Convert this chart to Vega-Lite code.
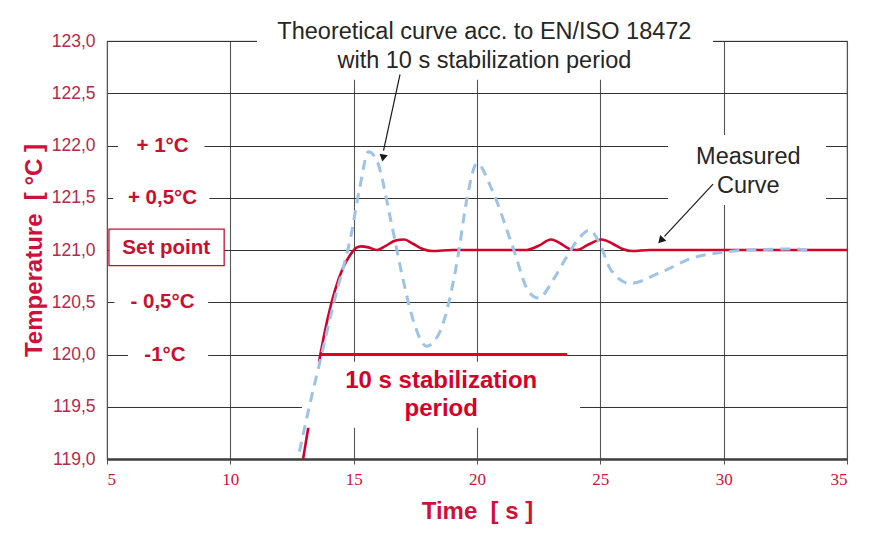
{
  "$schema": "https://vega.github.io/schema/vega-lite/v6.json",
  "width": 740,
  "height": 418,
  "autosize": "none",
  "padding": {"left": 107, "top": 41, "right": 34, "bottom": 84},
  "background": "white",
  "config": {
    "view": {"stroke": "#7f7f7f", "strokeWidth": 1.2},
    "font": "Liberation Sans"
  },
  "datasets": {
    "measured": [
      {"t": 12.95, "temp": 119.0}, {"t": 13.3, "temp": 119.5}, {"t": 13.65, "temp": 120.0},
      {"t": 13.95, "temp": 120.35}, {"t": 14.25, "temp": 120.62}, {"t": 14.55, "temp": 120.82},
      {"t": 14.85, "temp": 120.95}, {"t": 15.1, "temp": 121.02}, {"t": 15.3, "temp": 121.035},
      {"t": 15.6, "temp": 121.025}, {"t": 15.95, "temp": 121.0}, {"t": 16.3, "temp": 121.04},
      {"t": 16.7, "temp": 121.09}, {"t": 17.05, "temp": 121.1}, {"t": 17.4, "temp": 121.06},
      {"t": 17.8, "temp": 121.01}, {"t": 18.2, "temp": 120.99}, {"t": 19.0, "temp": 121.0},
      {"t": 22.0, "temp": 121.0}, {"t": 22.5, "temp": 121.04}, {"t": 23.0, "temp": 121.1},
      {"t": 23.4, "temp": 121.06}, {"t": 23.75, "temp": 121.01}, {"t": 24.05, "temp": 121.0},
      {"t": 24.5, "temp": 121.05}, {"t": 25.05, "temp": 121.1}, {"t": 25.5, "temp": 121.06},
      {"t": 25.9, "temp": 121.01}, {"t": 26.3, "temp": 120.99}, {"t": 27.0, "temp": 121.0},
      {"t": 35.0, "temp": 121.0}
    ],
    "theoretical": [
      {"t": 12.8, "temp": 119.07}, {"t": 13.2, "temp": 119.5}, {"t": 13.6, "temp": 119.9},
      {"t": 14.2, "temp": 120.5}, {"t": 14.9, "temp": 121.15}, {"t": 15.25, "temp": 121.6},
      {"t": 15.6, "temp": 121.94}, {"t": 15.95, "temp": 121.85}, {"t": 16.5, "temp": 121.29},
      {"t": 17.0, "temp": 120.72}, {"t": 17.45, "temp": 120.3}, {"t": 17.95, "temp": 120.08},
      {"t": 18.5, "temp": 120.22}, {"t": 19.2, "temp": 120.9}, {"t": 19.6, "temp": 121.5},
      {"t": 20.0, "temp": 121.83}, {"t": 20.6, "temp": 121.58}, {"t": 21.45, "temp": 121.03},
      {"t": 22.1, "temp": 120.6}, {"t": 22.5, "temp": 120.54}, {"t": 23.1, "temp": 120.72},
      {"t": 23.6, "temp": 120.92}, {"t": 24.2, "temp": 121.13}, {"t": 24.55, "temp": 121.19},
      {"t": 25.0, "temp": 121.05}, {"t": 25.4, "temp": 120.82}, {"t": 26.2, "temp": 120.68},
      {"t": 27.4, "temp": 120.78}, {"t": 28.7, "temp": 120.92}, {"t": 30.0, "temp": 120.98},
      {"t": 31.0, "temp": 121.0}, {"t": 32.8, "temp": 121.01}, {"t": 33.6, "temp": 120.99}
    ],
    "stab": [{"t": 13.65, "temp": 120.0, "t2": 23.65}],
    "boxes": [
      {"x": 11.08, "x2": 29.57, "y": 122.63, "y2": 123.3},
      {"x": 27.74, "x2": 34.15, "y": 121.43, "y2": 122.1},
      {"x": 12.9, "x2": 24.18, "y": 119.3, "y2": 119.93},
      {"x": 5.45, "x2": 8.95, "y": 121.85, "y2": 122.15},
      {"x": 5.25, "x2": 9.15, "y": 121.35, "y2": 121.65},
      {"x": 5.3, "x2": 9.1, "y": 120.35, "y2": 120.65},
      {"x": 5.85, "x2": 9.1, "y": 119.85, "y2": 120.15}
    ],
    "setpoint": [{"x": 5.08, "x2": 9.75, "y": 120.85, "y2": 121.2}],
    "redlabels": [
      {"x": 7.25, "y": 122.0, "label": "+ 1°C"},
      {"x": 7.25, "y": 121.5, "label": "+ 0,5°C"},
      {"x": 7.4, "y": 121.02, "label": "Set point"},
      {"x": 7.25, "y": 120.5, "label": "- 0,5°C"},
      {"x": 7.35, "y": 120.0, "label": "-1°C"}
    ],
    "stablabel": [
      {"x": 18.55, "y": 119.75, "label": "10 s stabilization"},
      {"x": 18.55, "y": 119.48, "label": "period"}
    ],
    "notes": [
      {"x": 20.3, "y": 123.09, "label": "Theoretical curve acc. to EN/ISO 18472"},
      {"x": 20.3, "y": 122.81, "label": "with 10 s stabilization period"},
      {"x": 31.0, "y": 121.89, "label": "Measured"},
      {"x": 31.0, "y": 121.61, "label": "Curve"}
    ],
    "arrows": [
      {"x": 16.88, "y": 122.68, "x2": 16.21, "y2": 121.95},
      {"x": 29.57, "y": 121.63, "x2": 27.6, "y2": 121.13}
    ],
    "head1": [{"x": 16.19, "y": 121.88}],
    "head2": [{"x": 27.45, "y": 121.09}]
  },
  "layer": [
    {
      "data": {"name": "measured"},
      "mark": {"type": "line", "color": "#d4002b", "strokeWidth": 2.6, "interpolate": "monotone", "clip": true},
      "encoding": {
        "x": {
          "field": "t", "type": "quantitative",
          "scale": {"domain": [5, 35], "nice": false, "zero": false},
          "axis": {
            "values": [5, 10, 15, 20, 25, 30, 35],
            "title": "Time\u00a0\u00a0[ s ]",
            "titleFont": "Liberation Sans", "titleFontSize": 24, "titleFontWeight": "bold",
            "titleColor": "#d0103a", "titlePadding": 12,
            "labelFont": "Liberation Sans Narrow", "labelFontSize": 17, "labelColor": "#d0103a",
            "labelPadding": 7,
            "grid": true, "gridColor": "#555555", "gridWidth": 1.1,
            "domainColor": "#404040", "domainWidth": 2.5,
            "tickColor": "#555555", "tickSize": 5
          }
        },
        "y": {
          "field": "temp", "type": "quantitative",
          "scale": {"domain": [119, 123], "nice": false, "zero": false},
          "axis": {
            "values": [119, 119.5, 120, 120.5, 121, 121.5, 122, 122.5, 123],
            "labelExpr": "replace(format(datum.value, '.1f'), '.', ',')",
            "title": "Temperature\u00a0\u00a0[ °C ]",
            "titleFont": "Liberation Sans", "titleFontSize": 24, "titleFontWeight": "bold",
            "titleColor": "#d0103a", "titlePadding": 5,
            "labelFont": "Liberation Sans", "labelFontSize": 17.5, "labelColor": "#b8284c",
            "labelPadding": 12,
            "grid": true, "gridColor": "#333333", "gridWidth": 1.1,
            "domain": false, "ticks": false
          }
        }
      }
    },
    {
      "data": {"name": "boxes"},
      "mark": {"type": "rect", "fill": "white", "clip": false},
      "encoding": {
        "x": {"field": "x", "type": "quantitative"},
        "x2": {"field": "x2"},
        "y": {"field": "y", "type": "quantitative"},
        "y2": {"field": "y2"}
      }
    },
    {
      "data": {"name": "setpoint"},
      "mark": {"type": "rect", "fill": "white", "stroke": "#c8102e", "strokeWidth": 1.3},
      "encoding": {
        "x": {"field": "x", "type": "quantitative"},
        "x2": {"field": "x2"},
        "y": {"field": "y", "type": "quantitative"},
        "y2": {"field": "y2"}
      }
    },
    {
      "data": {"name": "theoretical"},
      "mark": {"type": "line", "color": "#9dc3e6", "strokeWidth": 3, "strokeDash": [10, 7], "interpolate": "monotone"},
      "encoding": {
        "x": {"field": "t", "type": "quantitative"},
        "y": {"field": "temp", "type": "quantitative"}
      }
    },
    {
      "data": {"name": "stab"},
      "mark": {"type": "rule", "color": "#e0001b", "strokeWidth": 3.2},
      "encoding": {
        "x": {"field": "t", "type": "quantitative"},
        "x2": {"field": "t2"},
        "y": {"field": "temp", "type": "quantitative"}
      }
    },
    {
      "data": {"name": "redlabels"},
      "mark": {"type": "text", "font": "Liberation Sans", "fontSize": 20.5, "fontWeight": "bold", "color": "#c8102e", "align": "center", "baseline": "middle"},
      "encoding": {
        "x": {"field": "x", "type": "quantitative"},
        "y": {"field": "y", "type": "quantitative"},
        "text": {"field": "label"}
      }
    },
    {
      "data": {"name": "stablabel"},
      "mark": {"type": "text", "font": "Liberation Sans", "fontSize": 24, "fontWeight": "bold", "color": "#d6002b", "align": "center", "baseline": "middle"},
      "encoding": {
        "x": {"field": "x", "type": "quantitative"},
        "y": {"field": "y", "type": "quantitative"},
        "text": {"field": "label"}
      }
    },
    {
      "data": {"name": "notes"},
      "mark": {"type": "text", "font": "Liberation Sans", "fontSize": 23.5, "color": "#262626", "align": "center", "baseline": "middle"},
      "encoding": {
        "x": {"field": "x", "type": "quantitative"},
        "y": {"field": "y", "type": "quantitative"},
        "text": {"field": "label"}
      }
    },
    {
      "data": {"name": "arrows"},
      "mark": {"type": "rule", "color": "#1a1a1a", "strokeWidth": 1.2},
      "encoding": {
        "x": {"field": "x", "type": "quantitative"},
        "y": {"field": "y", "type": "quantitative"},
        "x2": {"field": "x2"},
        "y2": {"field": "y2"}
      }
    },
    {
      "data": {"name": "head1"},
      "mark": {"type": "point", "shape": "triangle-up", "filled": true, "color": "#1a1a1a", "opacity": 1, "size": 70, "angle": 191},
      "encoding": {
        "x": {"field": "x", "type": "quantitative"},
        "y": {"field": "y", "type": "quantitative"}
      }
    },
    {
      "data": {"name": "head2"},
      "mark": {"type": "point", "shape": "triangle-up", "filled": true, "color": "#1a1a1a", "opacity": 1, "size": 70, "angle": 223},
      "encoding": {
        "x": {"field": "x", "type": "quantitative"},
        "y": {"field": "y", "type": "quantitative"}
      }
    }
  ]
}
